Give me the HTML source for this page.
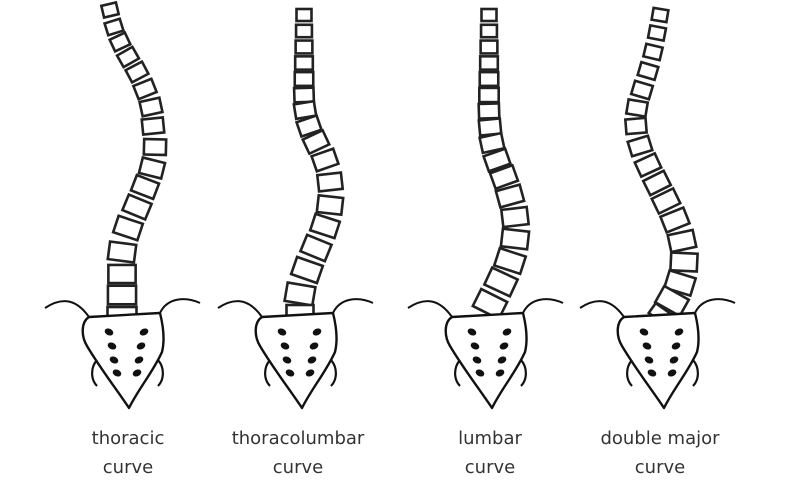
<!DOCTYPE html>
<html><head><meta charset="utf-8"><style>
body{margin:0;background:#fff;width:800px;height:485px;overflow:hidden}
svg{display:block}
text{font-family:"DejaVu Sans","Liberation Sans",sans-serif;font-size:18px;fill:#333;text-anchor:middle}
</style></head><body>
<svg id="s" width="800" height="485" viewBox="0 0 800 485" xmlns="http://www.w3.org/2000/svg">
<text x="128" y="444">thoracic</text><text x="128" y="473">curve</text>
<text x="298" y="444">thoracolumbar</text><text x="298" y="473">curve</text>
<text x="490" y="444">lumbar</text><text x="490" y="473">curve</text>
<text x="660" y="444">double major</text><text x="660" y="473">curve</text>
</svg>
<script>
var s=document.getElementById('s'),NS='http://www.w3.org/2000/svg';
function el(t,a){var e=document.createElementNS(NS,t);for(var k in a)e.setAttribute(k,a[k]);s.appendChild(e);return e;}
function sacrum(c){
 el('path',{d:'M'+(c-36)+',317 C'+(c-44)+',322 '+(c-44)+',336 '+(c-38)+',346 C'+(c-25)+',368 '+(c-8)+',390 '+(c+4)+',408 C'+(c+14)+',388 '+(c+28)+',372 '+(c+37)+',352 C'+(c+40)+',340 '+(c+38)+',325 '+(c+35)+',313 Z',fill:'#fff',stroke:'#111','stroke-width':2.4,'stroke-linejoin':'round'});
 el('path',{d:'M'+(c-80)+',308 C'+(c-62)+',296 '+(c-48)+',300 '+(c-36)+',317',fill:'none',stroke:'#111','stroke-width':2});
 el('path',{d:'M'+(c+35)+',313 C'+(c+42)+',298 '+(c+60)+',296 '+(c+75)+',303',fill:'none',stroke:'#111','stroke-width':2});
 el('path',{d:'M'+(c-28)+',360 C'+(c-35)+',368 '+(c-34)+',380 '+(c-28)+',386',fill:'none',stroke:'#111','stroke-width':2.2});
 el('path',{d:'M'+(c+33)+',360 C'+(c+40)+',368 '+(c+39)+',380 '+(c+33)+',386',fill:'none',stroke:'#111','stroke-width':2.2});
 var rows=[[332,-16,19],[346,-13,16],[360,-11,14],[373,-8,12]];
 rows.forEach(function(r){el('ellipse',{cx:c+r[1],cy:r[0],rx:4.5,ry:3.3,fill:'#111',transform:'rotate(25 '+(c+r[1])+' '+r[0]+')'});el('ellipse',{cx:c+r[2],cy:r[0],rx:4.5,ry:3.3,fill:'#111',transform:'rotate(-25 '+(c+r[2])+' '+r[0]+')'});});
}
function spine(pts){
 var n=pts.length;
 for(var i=0;i<n;i++){
  var a=pts[Math.max(0,i-1)],b=pts[Math.min(n-1,i+1)];
  var ang=Math.atan2(b[0]-a[0],b[1]-a[1])*-180/Math.PI;
  var t=i/(n-1),w=pts[i][2]||(15+t*14),h=pts[i][3]||(12+t*7);
  var p=pts[i];
  el('rect',{x:p[0]-w/2,y:p[1]-h/2,width:w,height:h,fill:'#fff',stroke:'#222','stroke-width':2.6,transform:'rotate('+ang+' '+p[0]+' '+p[1]+')'});
 }
}
spine([[110,10],[114,27],[120,42],[128,57],[137,72],[145,89],[151,107],[153,126],[155,147],[152,168],[145,187],[137,207],[128,228],[122,252],[122,274],[122,295],[122,313,29,12]]);
sacrum(125);
spine([[304,15],[304,31],[304,47],[304,63],[304,79],[304,95],[305,110],[309,126],[316,142],[325,160],[330,182],[330,205],[325,226],[316,248],[307,270],[300,294],[300,311,27,12]]);
sacrum(298);
spine([[489,15],[489,31],[489,47],[489,63],[489,79],[489,95],[489,111],[490,127],[492,143],[497,160],[504,177],[510,196],[515,217],[515,239],[510,261],[501,282],[490,304]]);
sacrum(488);
spine([[660,15],[657,33],[653,52],[648,71],[642,90],[637,108],[636,126],[640,146],[648,165],[657,183],[666,201],[675,220],[682,241],[684,262],[680,283],[672,301],[662,315,24,12]]);
sacrum(660);
</script>
</body></html>
